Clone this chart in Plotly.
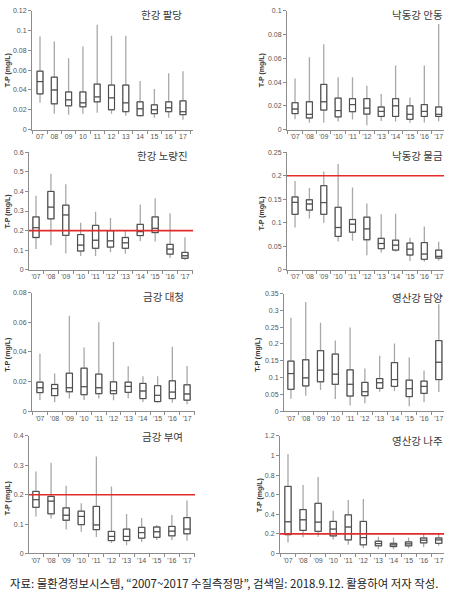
import plotly.graph_objects as go

# ---------------- data ----------------
years_plain = ["07", "08", "09", "10", "11", "12", "13", "14", "15", "16", "17"]
years_apos = ["'07", "'08", "'09", "'10", "'11", "'12", "'13", "'14", "'15", "'16", "'17"]

titles = ["한강 팔당", "낙동강 안동", "한강 노량진", "낙동강 물금",
          "금강 대청", "영산강 담양", "금강 부여", "영산강 나주"]

# panel 1: 한강 팔당
p1_low = [0.027, 0.016, 0.015, 0.016, 0.017, 0.016, 0.014, 0.013, 0.012, 0.012, 0.010]
p1_q1 = [0.036, 0.026, 0.024, 0.023, 0.028, 0.020, 0.018, 0.014, 0.016, 0.018, 0.015]
p1_med = [0.0485, 0.040, 0.030, 0.027, 0.033, 0.032, 0.027, 0.021, 0.020, 0.022, 0.018]
p1_q3 = [0.059, 0.053, 0.038, 0.038, 0.046, 0.045, 0.045, 0.028, 0.025, 0.028, 0.029]
p1_up = [0.094, 0.089, 0.072, 0.084, 0.106, 0.095, 0.095, 0.049, 0.041, 0.057, 0.059]

# panel 2: 낙동강 안동
p2_low = [0.0086, 0.0058, 0.006, 0.0067, 0.0084, 0.0036, 0.0072, 0.0067, 0.0058, 0.006, 0.007]
p2_q1 = [0.0134, 0.0097, 0.0164, 0.0106, 0.015, 0.013, 0.011, 0.011, 0.0086, 0.011, 0.011]
p2_med = [0.0173, 0.0128, 0.0234, 0.016, 0.021, 0.018, 0.0153, 0.020, 0.0128, 0.0153, 0.0128]
p2_q3 = [0.0226, 0.0234, 0.038, 0.0265, 0.026, 0.026, 0.019, 0.026, 0.020, 0.021, 0.019]
p2_up = [0.043, 0.061, 0.072, 0.044, 0.044, 0.037, 0.030, 0.054, 0.027, 0.054, 0.089]

# panel 3: 한강 노량진
p3_low = [0.106, 0.126, 0.084, 0.070, 0.070, 0.090, 0.082, 0.146, 0.145, 0.060, 0.050]
p3_q1 = [0.165, 0.260, 0.176, 0.096, 0.110, 0.116, 0.110, 0.175, 0.190, 0.080, 0.059]
p3_med = [0.215, 0.320, 0.280, 0.126, 0.151, 0.148, 0.138, 0.195, 0.212, 0.106, 0.072]
p3_q3 = [0.270, 0.400, 0.330, 0.180, 0.227, 0.200, 0.165, 0.232, 0.270, 0.130, 0.089]
p3_up = [0.378, 0.490, 0.437, 0.240, 0.297, 0.264, 0.198, 0.334, 0.365, 0.289, 0.166]

# panel 4: 낙동강 물금
p4_low = [0.090, 0.109, 0.100, 0.060, 0.062, 0.031, 0.037, 0.0385, 0.019, 0.017, 0.0196]
p4_q1 = [0.118, 0.127, 0.118, 0.071, 0.080, 0.064, 0.045, 0.042, 0.0315, 0.0224, 0.025]
p4_med = [0.1435, 0.140, 0.143, 0.090, 0.097, 0.087, 0.056, 0.0525, 0.044, 0.0336, 0.0287]
p4_q3 = [0.155, 0.149, 0.179, 0.133, 0.107, 0.112, 0.067, 0.063, 0.057, 0.058, 0.042]
p4_up = [0.189, 0.174, 0.209, 0.225, 0.175, 0.141, 0.118, 0.119, 0.068, 0.092, 0.0595]

# panel 5: 금강 대청
p5_low = [0.0076, 0.006, 0.0085, 0.0076, 0.0085, 0.0074, 0.0087, 0.0062, 0.0056, 0.0056, 0.0047]
p5_q1 = [0.0125, 0.0105, 0.0131, 0.0111, 0.0118, 0.0118, 0.0127, 0.0085, 0.0065, 0.0085, 0.0074]
p5_med = [0.0158, 0.0152, 0.0158, 0.0165, 0.0158, 0.0138, 0.0167, 0.0136, 0.0107, 0.0129, 0.0116]
p5_q3 = [0.0196, 0.018, 0.0256, 0.029, 0.025, 0.0198, 0.0196, 0.0187, 0.0172, 0.0205, 0.0178]
p5_up = [0.0388, 0.0254, 0.0644, 0.043, 0.060, 0.0466, 0.0303, 0.0236, 0.0236, 0.0435, 0.0305]

# panel 6: 영산강 담양
p6_low = [0.037, 0.046, 0.063, 0.036, 0.017, 0.0236, 0.058, 0.060, 0.0147, 0.0265, 0.057]
p6_q1 = [0.065, 0.075, 0.0875, 0.080, 0.045, 0.046, 0.068, 0.0737, 0.0433, 0.053, 0.094]
p6_med = [0.112, 0.099, 0.122, 0.110, 0.080, 0.058, 0.0846, 0.094, 0.0669, 0.0737, 0.1455]
p6_q3 = [0.149, 0.153, 0.180, 0.170, 0.123, 0.0855, 0.097, 0.1445, 0.0924, 0.0895, 0.210]
p6_up = [0.278, 0.325, 0.263, 0.210, 0.249, 0.127, 0.165, 0.2015, 0.160, 0.121, 0.318]

# panel 7: 금강 부여
p7_low = [0.126, 0.119, 0.082, 0.074, 0.056, 0.036, 0.028, 0.039, 0.046, 0.045, 0.043]
p7_q1 = [0.157, 0.135, 0.113, 0.098, 0.081, 0.044, 0.044, 0.052, 0.055, 0.060, 0.067]
p7_med = [0.183, 0.178, 0.130, 0.126, 0.097, 0.058, 0.058, 0.071, 0.074, 0.076, 0.083]
p7_q3 = [0.211, 0.194, 0.155, 0.144, 0.160, 0.075, 0.083, 0.089, 0.090, 0.092, 0.122]
p7_up = [0.279, 0.309, 0.230, 0.171, 0.330, 0.228, 0.134, 0.121, 0.097, 0.131, 0.180]

# panel 8: 영산강 나주
p8_low = [0.111, 0.165, 0.172, 0.142, 0.088, 0.057, 0.044, 0.044, 0.054, 0.067, 0.078]
p8_q1 = [0.192, 0.236, 0.226, 0.179, 0.138, 0.088, 0.078, 0.071, 0.078, 0.108, 0.104]
p8_med = [0.324, 0.344, 0.320, 0.249, 0.270, 0.162, 0.101, 0.088, 0.098, 0.135, 0.138]
p8_q3 = [0.684, 0.448, 0.512, 0.327, 0.394, 0.327, 0.125, 0.104, 0.118, 0.158, 0.158]
p8_up = [1.015, 0.698, 0.780, 0.435, 0.546, 0.556, 0.172, 0.162, 0.162, 0.202, 0.209]

stats = [
    (p1_low, p1_q1, p1_med, p1_q3, p1_up),
    (p2_low, p2_q1, p2_med, p2_q3, p2_up),
    (p3_low, p3_q1, p3_med, p3_q3, p3_up),
    (p4_low, p4_q1, p4_med, p4_q3, p4_up),
    (p5_low, p5_q1, p5_med, p5_q3, p5_up),
    (p6_low, p6_q1, p6_med, p6_q3, p6_up),
    (p7_low, p7_q1, p7_med, p7_q3, p7_up),
    (p8_low, p8_q1, p8_med, p8_q3, p8_up),
]

# y-axis tick values / labels per panel
y_ticks = [
    [0, 0.02, 0.04, 0.06, 0.08, 0.1, 0.12],
    [0, 0.02, 0.04, 0.06, 0.08, 0.1],
    [0, 0.1, 0.2, 0.3, 0.4, 0.5, 0.6],
    [0, 0.05, 0.1, 0.15, 0.2, 0.25],
    [0, 0.02, 0.04, 0.06, 0.08],
    [0, 0.05, 0.1, 0.15, 0.2, 0.25, 0.3, 0.35],
    [0, 0.1, 0.2, 0.3, 0.4],
    [0, 0.2, 0.4, 0.6, 0.8, 1, 1.2],
]
y_tick_labels = [
    ["0", "0.02", "0.04", "0.06", "0.08", "0.1", "0.12"],
    ["0", "0.02", "0.04", "0.06", "0.08", "0.1"],
    ["0", "0.1", "0.2", "0.3", "0.4", "0.5", "0.6"],
    ["0", "0.05", "0.1", "0.15", "0.2", "0.25"],
    ["0", "0.02", "0.04", "0.06", "0.08"],
    ["0", "0.05", "0.1", "0.15", "0.2", "0.25", "0.3", "0.35"],
    ["0", "0.1", "0.2", "0.3", "0.4"],
    ["0", "0.2", "0.4", "0.6", "0.8", "1", "1.2"],
]
x_tick_labels = [years_plain] + [years_apos] * 7

# 0.2 mg/L reference line in these panels
threshold = 0.2
threshold_panels = [3, 4, 7, 8]

y_title = "T-P (mg/L)"
caption = "자료: 물환경정보시스템, “2007~2017 수질측정망”, 검색일: 2018.9.12. 활용하여 저자 작성."

# ---------------- layout geometry (pixels) ----------------
W, H = 457, 597
# (x_left, x_right, y_top, y_bottom) of each plot area
boxes_px = [
    (32, 193, 7, 127),
    (287, 444, 7, 127),
    (29, 193, 150, 269),
    (287, 444, 150, 269),
    (32, 195, 292, 412),
    (284, 444, 293, 412),
    (29, 195, 437, 556),
    (280, 444, 437, 556),
]
x_ranges = [
    [-0.56, 10.70], [-0.56, 10.37], [-0.47, 10.54], [-0.56, 10.37],
    [-0.54, 10.54], [-0.47, 10.35], [-0.46, 10.53], [-0.53, 10.35],
]
title_pos = [(161, 11), (417, 11), (162, 153), (417, 153),
             (163, 296), (417, 297), (162, 438), (417, 442)]
ytitle_pos = [(8, 67), (262, 67), (8, 210), (262, 212),
              (8, 355), (258, 355), (8, 500), (260, 497)]

FONT = "Liberation Sans, Arial, sans-serif"
KFONT = "Noto Sans CJK KR, sans-serif"

fig = go.Figure()
xs = list(range(11))

for i, (low, q1, med, q3, up) in enumerate(stats):
    n = "" if i == 0 else str(i + 1)
    # whiskers (light grey)
    fig.add_trace(go.Box(
        x=xs, lowerfence=low, q1=q1, median=med, q3=q3, upperfence=up,
        xaxis="x" + n, yaxis="y" + n, width=0.42, whiskerwidth=0,
        line=dict(color="#a8a8a8", width=1.3), fillcolor="rgba(255,255,255,0)",
        boxpoints=False, showlegend=False, hoverinfo="skip",
    ))
    # boxes (dark)
    fig.add_trace(go.Box(
        x=xs, lowerfence=q1, q1=q1, median=med, q3=q3, upperfence=q3,
        xaxis="x" + n, yaxis="y" + n, width=0.42, whiskerwidth=0,
        line=dict(color="#4a4a4a", width=1), fillcolor="rgba(255,255,255,0)",
        boxpoints=False, showlegend=False, hoverinfo="skip",
    ))

layout = dict(
    width=W, height=H, margin=dict(l=0, r=0, t=0, b=0),
    paper_bgcolor="white", plot_bgcolor="white", boxmode="overlay",
    showlegend=False, annotations=[], shapes=[],
)

for i in range(8):
    n = "" if i == 0 else str(i + 1)
    xl, xr, yt, yb = boxes_px[i]
    layout["xaxis" + n] = dict(
        domain=[xl / W, xr / W], anchor="y" + n, range=x_ranges[i],
        tickmode="array", tickvals=xs, ticktext=x_tick_labels[i],
        showline=True, linecolor="#8c8c8c", linewidth=1,
        ticks="", showgrid=False, zeroline=False,
        minor=dict(ticks="outside", ticklen=3, tickcolor="#8c8c8c",
                   tick0=-0.5, dtick=1, showgrid=False),
        tickfont=dict(family=FONT, size=7, color="#555555"),
        fixedrange=True,
    )
    layout["yaxis" + n] = dict(
        domain=[1 - yb / H, 1 - yt / H], anchor="x" + n,
        range=[0, y_ticks[i][-1]],
        tickmode="array", tickvals=y_ticks[i], ticktext=y_tick_labels[i],
        showline=True, linecolor="#8c8c8c", linewidth=1,
        ticks="outside", ticklen=3, tickcolor="#8c8c8c",
        showgrid=False, zeroline=False,
        tickfont=dict(family=FONT, size=7, color="#555555"),
        fixedrange=True,
    )
    tx, ty = title_pos[i]
    layout["annotations"].append(dict(
        x=tx / W, y=1 - ty / H, xref="paper", yref="paper",
        text=titles[i], showarrow=False, xanchor="center", yanchor="middle",
        font=dict(family=KFONT, size=10.5, color="#3a3a3a"),
    ))
    ax, ay = ytitle_pos[i]
    layout["annotations"].append(dict(
        x=ax / W, y=1 - ay / H, xref="paper", yref="paper",
        text="<b>" + y_title + "</b>", showarrow=False, textangle=-90,
        xanchor="center", yanchor="middle",
        font=dict(family=FONT, size=7, color="#333333"),
    ))
    if (i + 1) in threshold_panels:
        layout["shapes"].append(dict(
            type="line", xref="x" + n + " domain", yref="y" + n,
            x0=0, x1=1, y0=threshold, y1=threshold,
            line=dict(color="#e32b2b", width=1.6),
        ))

layout["annotations"].append(dict(
    x=8 / W, y=1 - 586 / H, xref="paper", yref="paper",
    text=caption, showarrow=False, xanchor="left", yanchor="middle",
    font=dict(family=KFONT, size=11.4, color="#222222"),
))

fig.update_layout(**layout)
fig.write_html(
    "out.html",
    config={"displayModeBar": False},
    post_script="document.body.style.margin='0';document.body.style.padding='0';"
                "document.body.style.overflow='hidden';"
                "document.documentElement.style.overflow='hidden';",
)
